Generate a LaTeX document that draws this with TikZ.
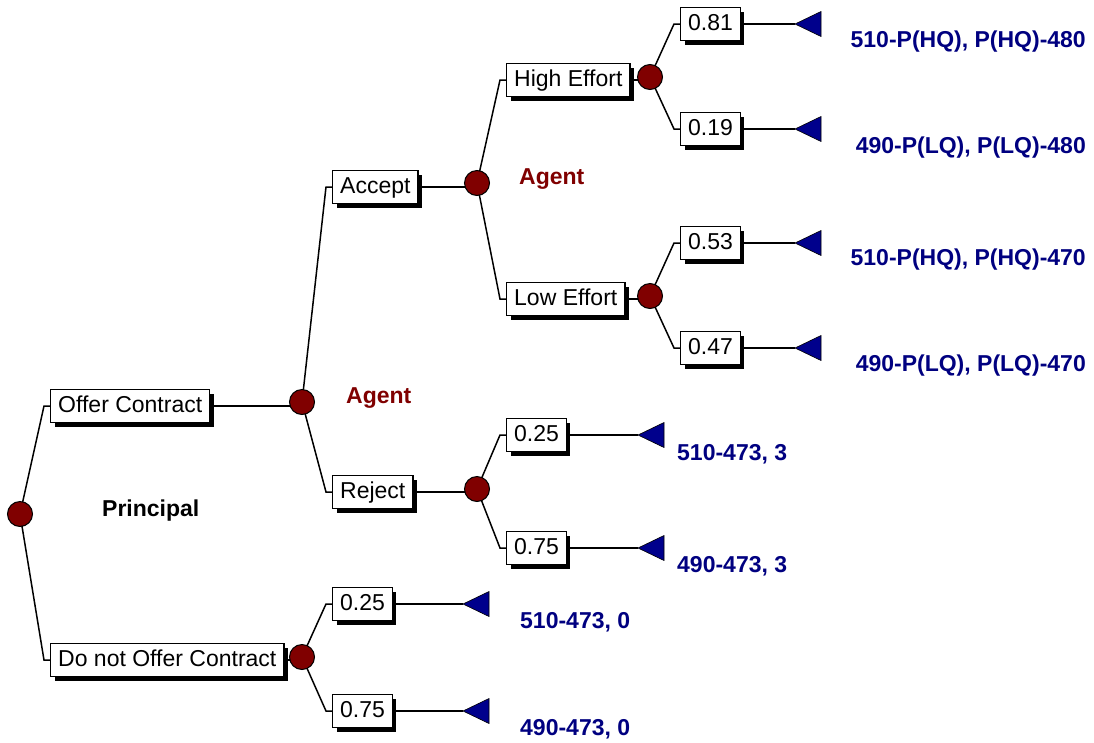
\documentclass[tikz,border=0pt]{standalone}
\usepackage{fontspec}
\setmainfont{Liberation Sans}
\usetikzlibrary{shadows}
\pgfdeclarelayer{background}
\pgfsetlayers{background,main}
\definecolor{chance}{RGB}{128,0,0}
\definecolor{payoff}{RGB}{0,0,128}
\definecolor{tricol}{RGB}{0,0,140}
\tikzset{
  conn/.style={line width=1.5pt, black},
  dbox/.style={draw, fill=white, line width=1.4pt, anchor=west,
    inner xsep=7.5pt, inner ysep=0pt, minimum height=33pt,
    text height=16.5pt, text depth=3.5pt,
    font=\fontsize{23}{27}\selectfont,
    drop shadow={shadow xshift=4pt, shadow yshift=-4pt, fill=black, opacity=1}},
  cnode/.style={circle, draw, line width=1pt, fill=chance, minimum size=25pt, inner sep=0pt},
  tri/.style={draw=black, line width=0.6pt, fill=tricol},
  paylab/.style={inner sep=0pt, text height=16.5pt, text depth=0pt, text=payoff,
    font=\fontsize{23}{27}\selectfont\bfseries},
  playerlab/.style={inner sep=0pt, text height=16.5pt, text depth=0pt, anchor=west,
    font=\fontsize{23}{27}\selectfont\bfseries}
}
\begin{document}
\begin{tikzpicture}[x=1pt,y=-1pt]
\useasboundingbox (0,0) rectangle (1094,742);
% chance / decision nodes
\node[cnode] (R) at (20,514) {};
\node[cnode] (A1) at (302,402) {};
\node[cnode] (N1) at (302,657) {};
\node[cnode] (A2) at (477,183) {};
\node[cnode] (R2) at (477,489) {};
\node[cnode] (H) at (650,77) {};
\node[cnode] (L) at (650,296) {};
% branch boxes
\node[dbox] (oc) at (50,406) {Offer Contract};
\node[dbox] (dn) at (50,660) {Do not Offer Contract};
\node[dbox] (acc) at (332,187) {Accept};
\node[dbox] (rej) at (332,492) {Reject};
\node[dbox] (he) at (506,80) {High Effort};
\node[dbox] (le) at (506,299) {Low Effort};
\node[dbox] (p81) at (680,24) {0.81};
\node[dbox] (p19) at (680,129) {0.19};
\node[dbox] (p53) at (680,243) {0.53};
\node[dbox] (p47) at (680,348) {0.47};
\node[dbox] (r25) at (506,435) {0.25};
\node[dbox] (r75) at (506,548) {0.75};
\node[dbox] (n25) at (332,604) {0.25};
\node[dbox] (n75) at (332,711) {0.75};
% terminal triangles
\coordinate (t1) at (795,24);
\coordinate (t2) at (795,129);
\coordinate (t3) at (795,243);
\coordinate (t4) at (795,348);
\coordinate (t5) at (638,435);
\coordinate (t6) at (638,548);
\coordinate (t7) at (463,604);
\coordinate (t8) at (463,711);
\foreach \t in {t1,t2,t3,t4,t5,t6,t7,t8}
  \draw[tri] (\t) -- ++(26,-12.5) -- ++(0,25) -- cycle;
% connectors
\begin{pgfonlayer}{background}
\foreach \p/\b in {R/oc, R/dn, A1/acc, A1/rej, N1/n25, N1/n75, A2/he, A2/le,
                   H/p81, H/p19, L/p53, L/p47, R2/r25, R2/r75}
  \draw[conn] (\p.center) -- ([xshift=-6pt]\b.west) -- (\b.west);
\foreach \b/\c in {oc/A1, dn/N1, acc/A2, rej/R2, he/H, le/L}
  \draw[conn] (\b.east) -- (\b.east -| \c.center);
\foreach \b/\t in {p81/t1, p19/t2, p53/t3, p47/t4, r25/t5, r75/t6, n25/t7, n75/t8}
  \draw[conn] (\b.east) -- (\t);
\end{pgfonlayer}
% payoff labels
\node[paylab, anchor=east] (l1) at (1086,39) {510-P(HQ), P(HQ)-480};
\node[paylab, anchor=east] (l2) at (1086,145) {490-P(LQ), P(LQ)-480};
\node[paylab, anchor=east] (l3) at (1086,257) {510-P(HQ), P(HQ)-470};
\node[paylab, anchor=east] (l4) at (1086,363) {490-P(LQ), P(LQ)-470};
\node[paylab, anchor=west] (l5) at (677,452) {510-473, 3};
\node[paylab, anchor=west] (l6) at (677,564) {490-473, 3};
\node[paylab, anchor=west] (l7) at (520,620) {510-473, 0};
\node[paylab, anchor=west] (l8) at (520,727) {490-473, 0};
% player labels
\node[playerlab, text=chance] (ag1) at (346,395) {Agent};
\node[playerlab, text=chance] (ag2) at (519,176) {Agent};
\node[playerlab] (pr) at (102,508) {Principal};
\end{tikzpicture}
\end{document}
